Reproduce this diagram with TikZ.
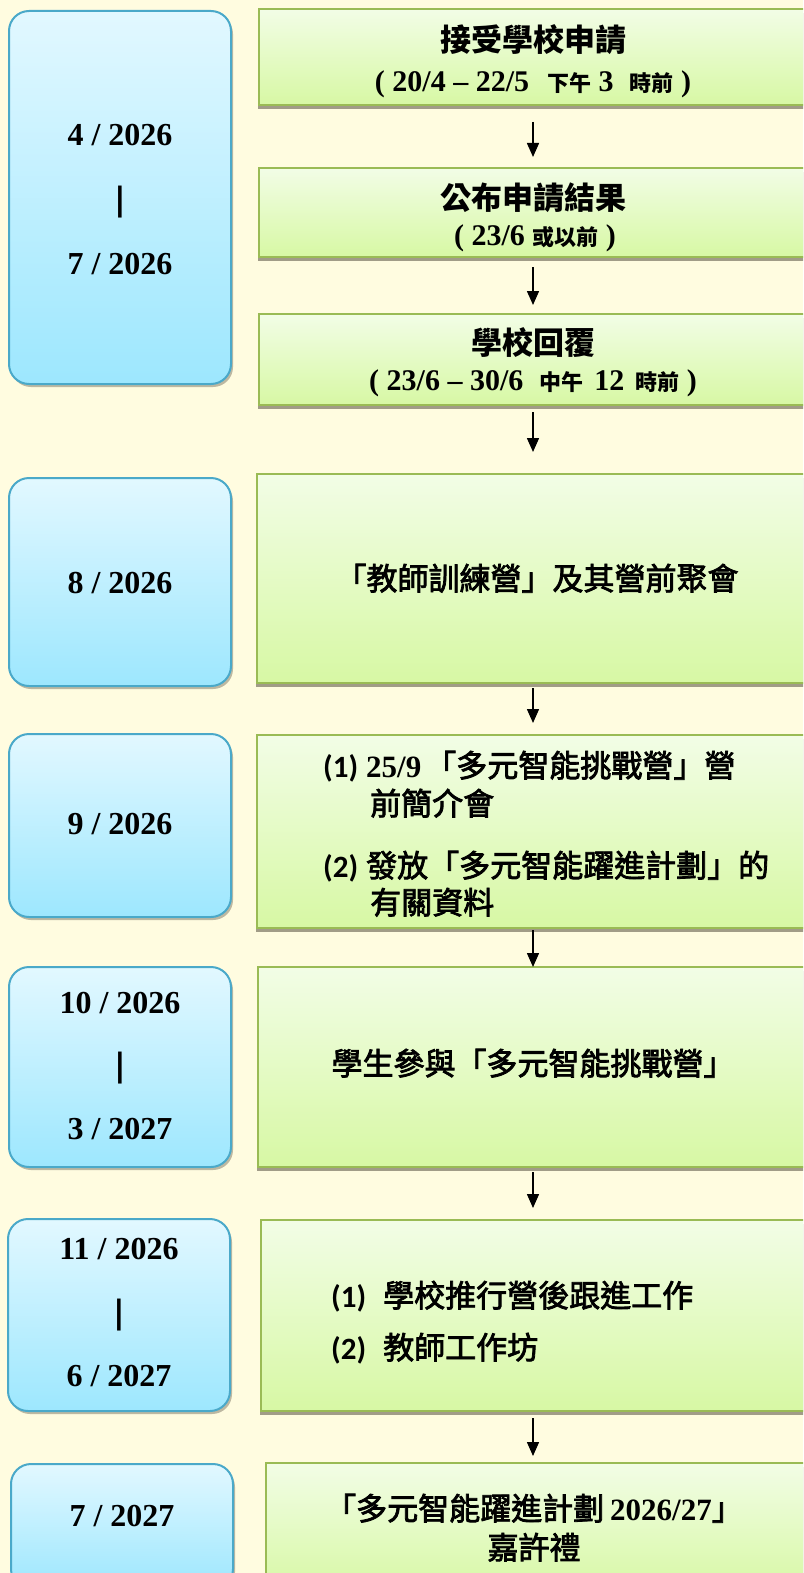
\documentclass[tikz,border=0pt]{standalone}
\usepackage{fontspec}
\setmainfont{Liberation Serif}
\newfontfamily\cjk{Noto Sans CJK TC}
\newfontfamily\cjkmedfam{Noto Sans CJK TC}[FakeBold=2.5]
\newfontfamily\calfont{Carlito}
\newfontfamily\djv{DejaVu Sans}
\usetikzlibrary{arrows.meta}
\definecolor{bg}{HTML}{FFFCE0}
\definecolor{btop}{HTML}{E2F8FF}
\definecolor{bbot}{HTML}{9DE7FE}
\definecolor{bline}{HTML}{4AA9C9}
\definecolor{gtop}{HTML}{F2FDE6}
\definecolor{gbot}{HTML}{D7F8A4}
\definecolor{gline}{HTML}{9ABB55}
\definecolor{shd}{HTML}{A19C87}
\newcommand\tb{\rmfamily\bfseries}
\newcommand\cb{\cjk\bfseries}
\newcommand\cjkmed{\cjkmedfam\mdseries}
\newcommand\num{\calfont\bfseries}
\newcommand\vbar{{\djv\bfseries |}}
\newcommand\sm[1]{{\cjk\bfseries\fontsize{22pt}{22pt}\selectfont #1}}
\begin{document}
\begin{tikzpicture}[x=1pt,y=-1pt,
  bbox/.style={draw=bline, line width=2pt, rounded corners=20pt, top color=btop, bottom color=bbot,
    minimum width=222pt, anchor=north west, inner sep=0pt, outer sep=0pt,
    preaction={fill=shd, fill opacity=0.7, transform canvas={xshift=2pt,yshift=-3pt}}},
  gbox/.style={draw=gline, line width=2pt, top color=gtop, bottom color=gbot,
    anchor=north west, inner sep=0pt, outer sep=0pt,
    preaction={fill=shd, transform canvas={xshift=-1pt,yshift=-4pt}}},
  datetxt/.style={inner sep=0pt, anchor=base, font=\fontsize{32pt}{32pt}\selectfont\tb},
  ctxt/.style={inner sep=0pt, anchor=base, font=\fontsize{31pt}{31pt}\selectfont},
  ltxt/.style={inner sep=0pt, anchor=base west, font=\fontsize{31pt}{31pt}\selectfont},
  arr/.style={line width=1.5pt, -{Triangle[width=12pt,length=14pt]}}]
\useasboundingbox (0,0) rectangle (803,1573);
\fill[bg] (0,0) rectangle (803,1573);
\clip (0,0) rectangle (803,1573);

% left date boxes
\node[bbox, minimum height=373pt] (b1) at (9,11) {};
\node[bbox, minimum height=208pt] (b2) at (9,478) {};
\node[bbox, minimum height=183pt] (b3) at (9,734) {};
\node[bbox, minimum height=200pt] (b4) at (9,967) {};
\node[bbox, minimum height=192pt] (b5) at (8,1219) {};
\node[bbox, minimum height=125pt] (b6) at (11,1464) {};

% right step boxes
\node[gbox, minimum width=548pt, minimum height=96pt] (g1) at (259,9) {};
\node[gbox, minimum width=548pt, minimum height=89pt] (g2) at (259,168) {};
\node[gbox, minimum width=548pt, minimum height=91pt] (g3) at (259,314) {};
\node[gbox, minimum width=550pt, minimum height=209pt] (g4) at (257,474) {};
\node[gbox, minimum width=550pt, minimum height=193pt] (g5) at (257,735) {};
\node[gbox, minimum width=549pt, minimum height=200pt] (g6) at (258,967) {};
\node[gbox, minimum width=546pt, minimum height=191pt] (g7) at (261,1220) {};
\node[gbox, minimum width=541pt, minimum height=130pt] (g8) at (266,1463) {};

% dates
\node[datetxt] (d1a) at (120,146) {4 / 2026};
\node[datetxt] (d1b) at (120,211) {\vbar};
\node[datetxt] (d1c) at (120,274) {7 / 2026};
\node[datetxt] (d2) at (120,593) {8 / 2026};
\node[datetxt] (d3) at (120,834) {9 / 2026};
\node[datetxt] (d4a) at (120,1013) {10 / 2026};
\node[datetxt] (d4b) at (120,1076) {\vbar};
\node[datetxt] (d4c) at (120,1139) {3 / 2027};
\node[datetxt] (d5a) at (119,1259) {11 / 2026};
\node[datetxt] (d5b) at (119,1323) {\vbar};
\node[datetxt] (d5c) at (119,1386) {6 / 2027};
\node[datetxt] (d6) at (122,1526) {7 / 2027};

% step texts
\node[ctxt] (t1a) at (533,52) {\cb 接受學校申請};
\node[ctxt, font=\fontsize{30pt}{30pt}\selectfont\tb] (t1b) at (533,92)
  {( 20/4 – 22/5\hspace{18pt}\sm{下午} 3\hspace{16pt}\sm{時前} )};
\node[ctxt] (t2a) at (533,209) {\cb 公布申請結果};
\node[ctxt, font=\fontsize{30pt}{30pt}\selectfont\tb] (t2b) at (535,245)
  {( 23/6 \sm{或以前} )};
\node[ctxt] (t3a) at (533,354) {\cb 學校回覆};
\node[ctxt, font=\fontsize{30pt}{30pt}\selectfont\tb] (t3b) at (533,390)
  {( 23/6 – 30/6\hspace{16pt}\sm{中午}\hspace{11pt}12\hspace{11pt}\sm{時前} )};
\node[ctxt] (t4) at (537,590) {\cjkmed 「教師訓練營」及其營前聚會};
\node[ltxt] (t5a) at (323,777) {\num (1)\hspace{8pt}\tb 25/9\hspace{4pt}\cjkmed 「多元智能挑戰營」營};
\node[ltxt] (t5b) at (370,815) {\cjkmed 前簡介會};
\node[ltxt] (t5c) at (323,877) {\num (2)\hspace{8pt}\cjkmed 發放「多元智能躍進計劃」的};
\node[ltxt] (t5d) at (370,914) {\cjkmed 有關資料};
\node[ctxt] (t6) at (533,1075) {\cjkmed 學生參與「多元智能挑戰營」};
\node[ltxt] (t7a) at (331,1307) {\num (1)\hspace{17pt}\cjkmed 學校推行營後跟進工作};
\node[ltxt] (t7b) at (331,1359) {\num (2)\hspace{17pt}\cjkmed 教師工作坊};
\node[ctxt] (t8a) at (534,1520) {\cjkmed 「多元智能躍進計劃\hspace{6pt}\tb 2026/27\cjkmed 」};
\node[ctxt] (t8b) at (534,1559) {\cjkmed 嘉許禮};

% arrows
\coordinate (ax) at (533,0);
\draw[arr, shorten <=17pt, shorten >=11pt] (g1.south -| ax) -- (g2.north -| ax);
\draw[arr, shorten <=10pt, shorten >=9pt] (g2.south -| ax) -- (g3.north -| ax);
\draw[arr, shorten <=7pt, shorten >=22pt] (g3.south -| ax) -- (g4.north -| ax);
\draw[arr, shorten <=5pt, shorten >=12pt] (g4.south -| ax) -- (g5.north -| ax);
\draw[arr, shorten <=2pt, shorten >=0pt] (g5.south -| ax) -- (g6.north -| ax);
\draw[arr, shorten <=5pt, shorten >=12pt] (g6.south -| ax) -- (g7.north -| ax);
\draw[arr, shorten <=7pt, shorten >=7pt] (g7.south -| ax) -- (g8.north -| ax);
\end{tikzpicture}
\end{document}
